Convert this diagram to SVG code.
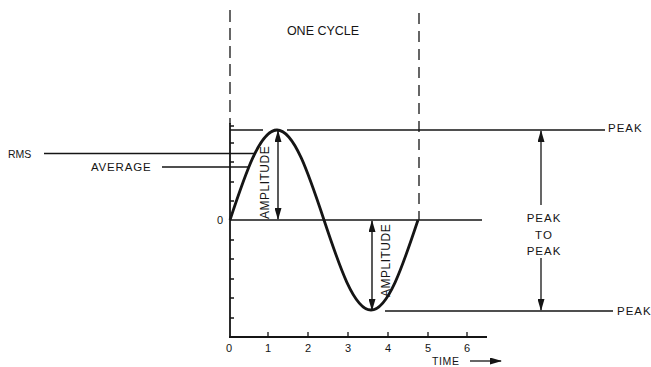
<svg xmlns="http://www.w3.org/2000/svg" width="651" height="367" viewBox="0 0 651 367">
<defs>
<marker id="ah" viewBox="0 0 12 7" markerWidth="12" markerHeight="7" refX="11" refY="3.5" orient="auto-start-reverse" markerUnits="userSpaceOnUse">
<path d="M0,0 L12,3.5 L0,7 z" fill="#151515"/>
</marker>
</defs>
<style>
.t{font-family:"Liberation Sans",Arial,sans-serif;fill:#151515}
.ln{stroke:#151515;stroke-width:1.3;fill:none}
.ax{stroke:#151515;stroke-width:1.8;fill:none}
.ar{stroke:#151515;stroke-width:1.4;fill:none;marker-start:url(#ah);marker-end:url(#ah)}
</style>
<rect width="651" height="367" fill="#fff"/>
<g id="cycle-markers">
<line x1="230" y1="10" x2="230" y2="124" class="ln" stroke-dasharray="12 6"/>
<line x1="419" y1="13" x2="419" y2="220" class="ln" stroke-dasharray="11 7"/>
<text x="323" y="35" class="t" font-size="12.5" text-anchor="middle">ONE CYCLE</text>
</g>
<g id="axes">
<line x1="230" y1="123" x2="230" y2="337" class="ax"/>
<line x1="229" y1="337" x2="487" y2="337" class="ax"/>
<path class="ln" d="M230,126h4M230,143h4M230,162h4M230,182h4M230,201h4M230,240h4M230,259h4M230,279h4M230,298h4M230,318h4"/>
<path class="ln" d="M268,337v-5M308,337v-5M348,337v-5M388,337v-5M428,337v-5M467,337v-5"/>
<g class="t" font-size="11" text-anchor="middle">
<text x="229" y="352">0</text><text x="268" y="352">1</text><text x="308" y="352">2</text><text x="348" y="352">3</text><text x="388" y="352">4</text><text x="428" y="352">5</text><text x="467" y="352">6</text>
<text x="220" y="224">0</text>
</g>
<text x="432" y="364.5" class="t" font-size="10.5" letter-spacing="0.6">TIME</text>
<line x1="470" y1="361" x2="501" y2="361" class="ln" stroke-width="1.6" marker-end="url(#ah)"/>
</g>
<g id="levels">
<line x1="230" y1="130" x2="263" y2="130" class="ln"/>
<line x1="287" y1="130" x2="605" y2="130" class="ln"/>
<line x1="230" y1="220" x2="482" y2="220" class="ln"/>
<line x1="385" y1="311" x2="613" y2="311" class="ln"/>
<line x1="44" y1="153.5" x2="254" y2="153.5" class="ln"/>
<line x1="162" y1="167" x2="248" y2="167" class="ln"/>
<text x="8" y="157.5" class="t" font-size="10.5">RMS</text>
<text x="91" y="171" class="t" font-size="11.5" letter-spacing="0.8">AVERAGE</text>
<text x="608" y="132" class="t" font-size="11.5" letter-spacing="1">PEAK</text>
<text x="617" y="315" class="t" font-size="11.5" letter-spacing="1">PEAK</text>
</g>
<g id="wave">
<path d="M230,220 C245.33,173.89 259.99,130 277,130 C294.01,130 308.67,173.89 324,220 C339.33,266.11 353.99,310 371,310 C388.01,310 402.67,266.11 418,220" fill="none" stroke="#151515" stroke-width="2.8"/>
</g>
<g id="amplitude-1">
<line x1="278" y1="131" x2="278" y2="219" class="ar"/>
<text transform="translate(268.5,219) rotate(-90)" class="t" font-size="12" letter-spacing="0.5">AMPLITUDE</text>
</g>
<g id="amplitude-2">
<line x1="372" y1="221" x2="372" y2="310" class="ar"/>
<text transform="translate(389.5,297) rotate(-90)" class="t" font-size="12" letter-spacing="0.5">AMPLITUDE</text>
</g>
<g id="peak-to-peak">
<line x1="541" y1="131" x2="541" y2="205" class="ln" stroke-width="1.4" marker-start="url(#ah)"/>
<line x1="541" y1="258" x2="541" y2="310" class="ln" stroke-width="1.4" marker-end="url(#ah)"/>
<g class="t" font-size="11.5" letter-spacing="1" text-anchor="middle">
<text x="544" y="222">PEAK</text>
<text x="544" y="239">TO</text>
<text x="544" y="255">PEAK</text>
</g>
</g>
</svg>
